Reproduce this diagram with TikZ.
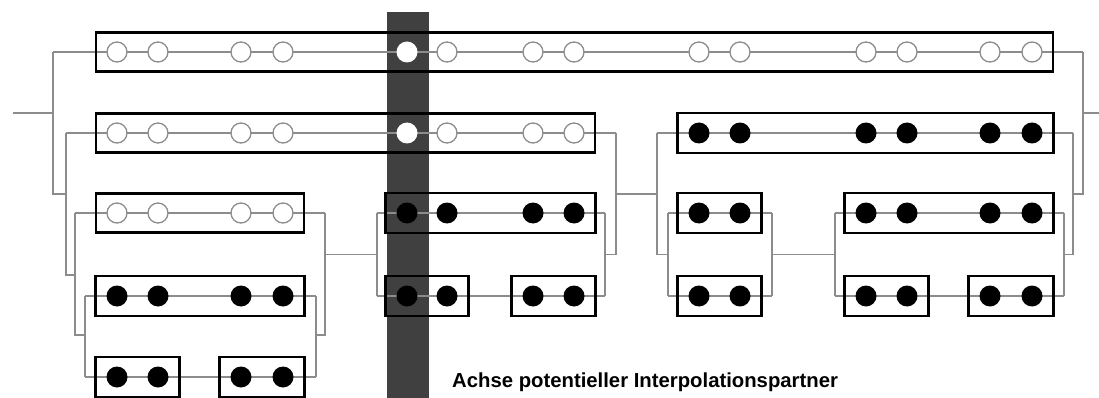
\documentclass[tikz,border=0pt]{standalone}
\usepackage{fontspec}
\setmainfont{Liberation Sans}
\usetikzlibrary{fit,calc}
\definecolor{linkgray}{HTML}{8C8C8C}
\definecolor{axisgray}{HTML}{404040}
\begin{document}
\begin{tikzpicture}[x=1pt,y=-1pt,
  link/.style={draw=linkgray,line width=1.4pt},
  opendot/.style={circle,draw=linkgray,line width=1.3pt,fill=white,minimum size=20pt,inner sep=0pt,outer sep=0pt},
  axisdot/.style={circle,fill=white,minimum size=21pt,inner sep=0pt,outer sep=0pt},
  fulldot/.style={circle,fill=black,minimum size=21pt,inner sep=0pt,outer sep=0pt},
  grpbox/.style={draw=black,line width=2.3pt,inner xsep=11pt,inner ysep=9.5pt,outer sep=0pt},
  axisbar/.style={fill=axisgray,inner sep=0pt,outer sep=0pt,minimum width=42pt,minimum height=386pt,anchor=north west}
]
\useasboundingbox (0,0) rectangle (1099,398);

% interpolation axis
\node[axisbar] (axis) at (387,12) {};

% ends of the row lines
\coordinate (s1l) at (53,52);    \coordinate (s1r) at (1083,52);
\coordinate (s2l) at (66,133);   \coordinate (s2r) at (616,133);
\coordinate (s3l) at (657,133);  \coordinate (s3r) at (1073,133);
\coordinate (s4l) at (75,213);   \coordinate (s4r) at (325,213);
\coordinate (s5l) at (377,213);  \coordinate (s5r) at (605,213);
\coordinate (s6l) at (668,213);  \coordinate (s6r) at (772,213);
\coordinate (s7l) at (835,213);  \coordinate (s7r) at (1064,213);
\coordinate (s8l) at (85,296);   \coordinate (s8r) at (316,296);
\coordinate (s9l) at (377,296);  \coordinate (s9r) at (605,296);
\coordinate (s10l) at (668,296); \coordinate (s10r) at (772,296);
\coordinate (s11l) at (835,296); \coordinate (s11r) at (1064,296);
\coordinate (s12l) at (85,377);  \coordinate (s12r) at (316,377);
\coordinate (rootL) at (13,113); \coordinate (rootR) at (1099,113);

% row lines
\foreach \k in {1,...,12} { \draw[link] (s\k l) -- (s\k r); }

% brackets joining the rows
\draw[link] (rootL) -- (rootL -| s1l);
\draw[link] (rootR) -- (rootR -| s1r);
\draw[link] (s1l) -- ++(0,142) -| (s2l);
\draw[link] (s2l) -- ++(0,142) -| (s4l);
\draw[link] (s4l) -- ++(0,122) -| (s8l);
\draw[link] (s8l) -- (s12l);
\draw[link] (s8r) -- (s12r);
\draw[link] (s4r) -- ++(0,122) -| (s8r);
\draw[link] (s5l) -- (s9l);
\draw[link] ($(s5l)!.5!(s9l)$) -| (s4r);
\draw[link] (s5r) -- (s9r);
\draw[link] ($(s5r)!.5!(s9r)$) -| (s2r);
\draw[link] (s2r) -- ++(0,61) -| (s3l);
\draw[link] (s3l) |- ($(s6l)!.5!(s10l)$);
\draw[link] (s6l) -- (s10l);
\draw[link] (s6r) -- (s10r);
\draw[link] ($(s6r)!.5!(s10r)$) -- ($(s7l)!.5!(s11l)$);
\draw[link] (s7l) -- (s11l);
\draw[link] (s7r) -- (s11r);
\draw[link] ($(s7r)!.5!(s11r)$) -| (s3r);
\draw[link] (s1r) -- ++(0,142) -| (s3r);

% column positions
\def\colsL{1/117,2/158,3/241,4/283}
\def\colsM{6/447,7/533,8/574}
\def\colsR{9/699,10/740,11/866,12/907,13/990,14/1032}

% row 1
\foreach \i/\x in \colsL {\node[opendot] (r1c\i) at (\x,52) {};}
\node[axisdot] (r1c5) at (407,52) {};
\foreach \i/\x in \colsM {\node[opendot] (r1c\i) at (\x,52) {};}
\foreach \i/\x in \colsR {\node[opendot] (r1c\i) at (\x,52) {};}
% row 2
\foreach \i/\x in \colsL {\node[opendot] (r2c\i) at (\x,133) {};}
\node[axisdot] (r2c5) at (407,133) {};
\foreach \i/\x in \colsM {\node[opendot] (r2c\i) at (\x,133) {};}
\foreach \i/\x in \colsR {\node[fulldot] (r2c\i) at (\x,133) {};}
% row 3
\foreach \i/\x in \colsL {\node[opendot] (r3c\i) at (\x,213) {};}
\node[fulldot] (r3c5) at (407,213) {};
\foreach \i/\x in \colsM {\node[fulldot] (r3c\i) at (\x,213) {};}
\foreach \i/\x in \colsR {\node[fulldot] (r3c\i) at (\x,213) {};}
% row 4
\foreach \i/\x in \colsL {\node[fulldot] (r4c\i) at (\x,296) {};}
\node[fulldot] (r4c5) at (407,296) {};
\foreach \i/\x in \colsM {\node[fulldot] (r4c\i) at (\x,296) {};}
\foreach \i/\x in \colsR {\node[fulldot] (r4c\i) at (\x,296) {};}
% row 5
\foreach \i/\x in \colsL {\node[fulldot] (r5c\i) at (\x,377) {};}

% groups
\node[grpbox,fit=(r1c1)(r1c14)] (g1) {};
\node[grpbox,fit=(r2c1)(r2c8)] (g21) {};
\node[grpbox,fit=(r2c9)(r2c14)] (g22) {};
\node[grpbox,fit=(r3c1)(r3c4)] (g31) {};
\node[grpbox,fit=(r3c5)(r3c8)] (g32) {};
\node[grpbox,fit=(r3c9)(r3c10)] (g33) {};
\node[grpbox,fit=(r3c11)(r3c14)] (g34) {};
\node[grpbox,fit=(r4c1)(r4c4)] (g41) {};
\node[grpbox,fit=(r4c5)(r4c6)] (g42) {};
\node[grpbox,fit=(r4c7)(r4c8)] (g43) {};
\node[grpbox,fit=(r4c9)(r4c10)] (g44) {};
\node[grpbox,fit=(r4c11)(r4c12)] (g45) {};
\node[grpbox,fit=(r4c13)(r4c14)] (g46) {};
\node[grpbox,fit=(r5c1)(r5c2)] (g51) {};
\node[grpbox,fit=(r5c3)(r5c4)] (g52) {};

% caption
\node[anchor=base west,inner sep=0pt,font=\bfseries\fontsize{20.3}{24}\selectfont] (caption) at (452,387) {Achse potentieller Interpolationspartner};
\end{tikzpicture}
\end{document}
